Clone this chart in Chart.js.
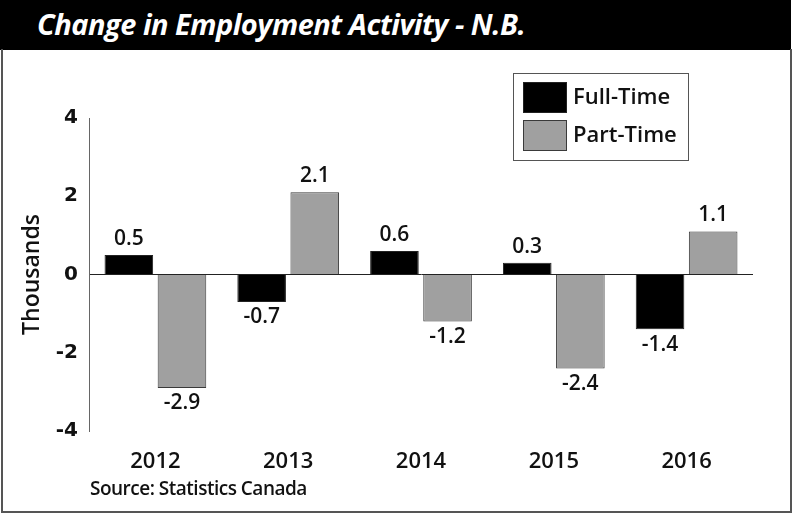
<!DOCTYPE html>
<html>
<head>
<meta charset="utf-8">
<title>Change in Employment Activity - N.B.</title>
<script src="https://cdn.jsdelivr.net/npm/chart.js@4"></script>
<style>
  body { margin: 0; background: #fff; }
  #wrap { position: relative; width: 799px; height: 518px; overflow: hidden; }
  #titlebar {
    position: absolute; left: 0; top: 0; width: 791px; height: 50px;
    background: #000; color: #fff;
    font: italic 700 29px "Open Sans", sans-serif;
    line-height: 48px; padding-left: 37px; box-sizing: border-box;
    letter-spacing: -0.5px;
  }
  #frame {
    position: absolute; left: 1px; top: 49px; width: 791px; height: 464px;
    border: 2px solid #555; border-top: none; box-sizing: border-box;
  }
  #source {
    position: absolute; left: 90px; top: 476px;
    font: 600 19px "Open Sans", sans-serif; line-height: 24px; color: #111;
    letter-spacing: -0.5px;
  }
  #chart { position: absolute; left: 0; top: 0; }
</style>
</head>
<body>
<div id="wrap">
  <div id="titlebar">Change in Employment Activity - N.B.</div>
  <div id="frame"></div>
  <canvas id="chart" width="799" height="518"></canvas>
  <div id="source">Source: Statistics Canada</div>
</div>
<script>
// data (thousands)
const years = ['2012', '2013', '2014', '2015', '2016'];
const fullTime = [0.5, -0.7, 0.6, 0.3, -1.4];
const partTime = [-2.9, 2.1, -1.2, -2.4, 1.1];
const yMin = -4, yMax = 4, yStep = 2;

const labelFont = '600 21px "Open Sans", sans-serif';

// value labels above / below each bar
const valueLabels = {
  id: 'valueLabels',
  afterDatasetsDraw(chart) {
    const ctx = chart.ctx;
    ctx.save();
    ctx.font = labelFont;
    ctx.fillStyle = '#111';
    ctx.textAlign = 'center';
    chart.data.datasets.forEach((ds, i) => {
      chart.getDatasetMeta(i).data.forEach((bar, j) => {
        const v = ds.data[j];
        if (v >= 0) {
          ctx.textBaseline = 'alphabetic';
          ctx.fillText(v.toFixed(1), bar.x, bar.y - 10);
        } else {
          ctx.textBaseline = 'top';
          ctx.fillText(v.toFixed(1), bar.x, bar.y + 5);
        }
      });
    });
    ctx.restore();
  }
};

// boxed legend in the upper right
const boxLegend = {
  id: 'boxLegend',
  afterDraw(chart) {
    const ctx = chart.ctx;
    const a = chart.chartArea;
    const x = a.right - 240, y = a.top - 45, w = 175, h = 87;
    ctx.save();
    ctx.strokeStyle = '#555';
    ctx.lineWidth = 1;
    ctx.strokeRect(x + 0.5, y + 0.5, w, h);
    ctx.font = '600 22px "Open Sans", sans-serif';
    ctx.textBaseline = 'middle';
    ctx.textAlign = 'left';
    chart.data.datasets.forEach((ds, i) => {
      const sy = y + 9 + i * 38;
      ctx.fillStyle = ds.backgroundColor;
      ctx.fillRect(x + 10, sy, 44, 31);
      ctx.strokeStyle = ds.borderColor;
      ctx.strokeRect(x + 10.5, sy + 0.5, 43, 30);
      ctx.fillStyle = '#111';
      ctx.fillText(ds.label, x + 60, sy + 16);
    });
    ctx.restore();
  }
};

new Chart(document.getElementById('chart'), {
  type: 'bar',
  data: {
    labels: years,
    datasets: [
      {
        label: 'Full-Time',
        data: fullTime,
        backgroundColor: '#000000',
        borderColor: '#222222',
        borderWidth: 1,
        categoryPercentage: 0.8,
        barPercentage: 0.915
      },
      {
        label: 'Part-Time',
        data: partTime,
        backgroundColor: '#a0a0a0',
        borderColor: '#3a3a3a',
        borderWidth: 1,
        categoryPercentage: 0.8,
        barPercentage: 0.915
      }
    ]
  },
  options: {
    responsive: false,
    animation: false,
    layout: { padding: { top: 118, right: 46, bottom: 0, left: 0 } },
    plugins: {
      legend: { display: false },
      tooltip: { enabled: false }
    },
    scales: {
      x: {
        grid: { display: false },
        border: { display: false },
        ticks: {
          color: '#111',
          font: { family: '"Open Sans", sans-serif', size: 22, weight: '600' },
          padding: 10
        },
        afterFit(scale) { scale.height = 87; }
      },
      y: {
        min: yMin,
        max: yMax,
        ticks: {
          stepSize: yStep,
          color: '#111',
          font: { family: '"DejaVu Sans", sans-serif', size: 20, weight: 'bold' },
          padding: 11
        },
        grid: {
          drawTicks: false,
          color: ctx => (ctx.tick && ctx.tick.value === 0 ? '#222' : 'rgba(0,0,0,0)'),
          lineWidth: 1
        },
        border: { display: true, color: '#666', width: 1 },
        title: {
          display: true,
          text: 'Thousands',
          color: '#111',
          font: { family: '"Open Sans", sans-serif', size: 23, weight: '600' },
          padding: { top: 19, bottom: 0 }
        },
        afterFit(scale) { scale.width = 89; }
      }
    }
  },
  plugins: [valueLabels, boxLegend]
});
</script>
</body>
</html>
